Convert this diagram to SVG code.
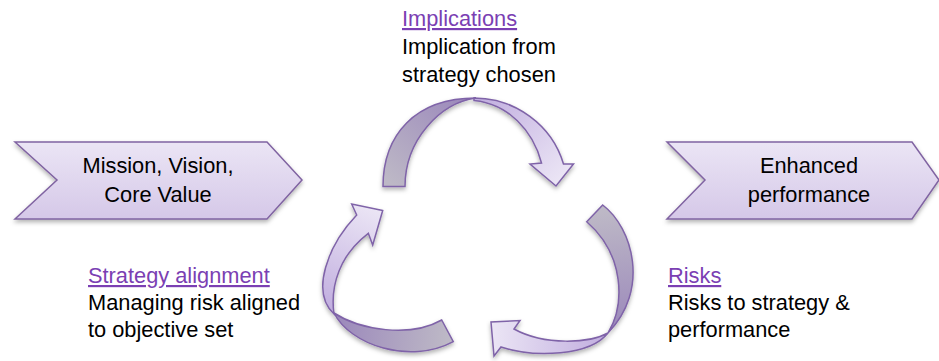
<svg xmlns="http://www.w3.org/2000/svg" width="939" height="361" viewBox="0 0 939 361">
  <defs>
    <style>
      .chev { stroke: #8064a2; stroke-width: 1.5; stroke-linejoin: miter; fill: url(#chevFill); filter: url(#shadow); }
      .front { stroke: #7f63a8; stroke-width: 1.5; stroke-linejoin: miter; }
      .back { stroke: #7f63a8; stroke-width: 1.5; stroke-linejoin: miter; }
      .label { font-family: "Liberation Sans", Arial, sans-serif; font-size: 21.8px; fill: #000; }
      .center { text-anchor: middle; }
      .head { fill: #7b3fb3; text-decoration: underline; }
    </style>
    <linearGradient id="chevFill" x1="0" y1="0" x2="0" y2="1">
      <stop offset="0" stop-color="#ebe5f5"/>
      <stop offset="1" stop-color="#d5c8e8"/>
    </linearGradient>
    <filter id="shadow" x="-10%" y="-10%" width="120%" height="130%">
      <feDropShadow dx="0" dy="2.5" stdDeviation="2" flood-color="#000" flood-opacity="0.3"/>
    </filter>
    <!-- darker "back side" of each twisted ribbon -->
    <linearGradient id="backTop" gradientUnits="userSpaceOnUse" x1="394" y1="186" x2="470" y2="98">
      <stop offset="0" stop-color="#bdb8c6"/>
      <stop offset="1" stop-color="#9b88bb"/>
    </linearGradient>
    <linearGradient id="backLeft" gradientUnits="userSpaceOnUse" x1="448" y1="330" x2="336" y2="316">
      <stop offset="0" stop-color="#bdb8c6"/>
      <stop offset="1" stop-color="#9b88bb"/>
    </linearGradient>
    <linearGradient id="backRight" gradientUnits="userSpaceOnUse" x1="595" y1="213" x2="610" y2="333">
      <stop offset="0" stop-color="#bdb8c6"/>
      <stop offset="1" stop-color="#9b88bb"/>
    </linearGradient>
    <!-- lighter "front side" carrying the arrowheads -->
    <linearGradient id="frontTop" gradientUnits="userSpaceOnUse" x1="476" y1="99" x2="555" y2="185">
      <stop offset="0" stop-color="#c1aedf"/>
      <stop offset="1" stop-color="#ebe5f5"/>
    </linearGradient>
    <linearGradient id="frontLeft" gradientUnits="userSpaceOnUse" x1="334" y1="312" x2="378" y2="210">
      <stop offset="0" stop-color="#c1aedf"/>
      <stop offset="1" stop-color="#ebe5f5"/>
    </linearGradient>
    <linearGradient id="frontRight" gradientUnits="userSpaceOnUse" x1="607" y1="333" x2="492" y2="330">
      <stop offset="0" stop-color="#c1aedf"/>
      <stop offset="1" stop-color="#ebe5f5"/>
    </linearGradient>
  </defs>

  <rect width="939" height="361" fill="#ffffff"/>

  <!-- input chevron -->
  <g id="mission">
    <path class="chev" d="M15,142 L267,142 L302,180 L267,219 L15,219 L57,180 Z"/>
    <text class="label center" x="158" y="173">Mission, Vision,</text>
    <text class="label center" x="158" y="202">Core Value</text>
  </g>

  <!-- output chevron -->
  <g id="performance">
    <path class="chev" d="M667,142 L912,142 L939,180 L912,219 L667,219 L705,180 Z"/>
    <text class="label center" x="809" y="173">Enhanced</text>
    <text class="label center" x="809" y="202">performance</text>
  </g>

  <!-- cycle of three twisted arrows -->
  <g id="connectors" filter="url(#shadow)">
    <g id="arrow-implications">
      <path class="back" fill="url(#backTop)" d="M383,186.5 C383,135 415,98 476,98 C440,103 405,140 405,186.5 Z"/>
      <path class="front" fill="url(#frontTop)" d="M474,98 C515,98 552,125 563.5,164 L573.5,164 L556,186 L530,164 L541.5,163 C533,130 508,104 474,100.5 Z"/>
    </g>
    <g id="arrow-risks">
      <path class="back" fill="url(#backRight)" d="M586.7,221.7 L602.7,205 C633,228 650,290 608,333 C625,305 625,255 586.7,221.7 Z"/>
      <path class="front" fill="url(#frontRight)" d="M608,333 C590,343 545,346 514,329 L520,320.5 L491,322 L494,356 L501,347 C535,358 590,356 608,333 Z"/>
    </g>
    <g id="arrow-strategy">
      <path class="back" fill="url(#backLeft)" d="M334,313 C350,345 410,365 453.3,341.7 L441.7,320 C410,338 360,330 334,313 Z"/>
      <path class="front" fill="url(#frontLeft)" d="M382.7,210.5 L351.7,204 L356.7,215 C328,245 310,292 334,314 C330,285 340,255 368.3,233.3 L372.7,245 Z"/>
    </g>
  </g>

  <!-- cycle stage labels -->
  <g id="implications">
    <text class="label head" x="402" y="26">Implications</text>
    <text class="label" x="402" y="54">Implication from</text>
    <text class="label" x="402" y="82">strategy chosen</text>
  </g>
  <g id="strategy">
    <text class="label head" x="88" y="283">Strategy alignment</text>
    <text class="label" x="88" y="310">Managing risk aligned</text>
    <text class="label" x="88" y="337">to objective set</text>
  </g>
  <g id="risks">
    <text class="label head" x="668" y="283">Risks</text>
    <text class="label" x="668" y="310">Risks to strategy &amp;</text>
    <text class="label" x="668" y="337">performance</text>
  </g>
</svg>
